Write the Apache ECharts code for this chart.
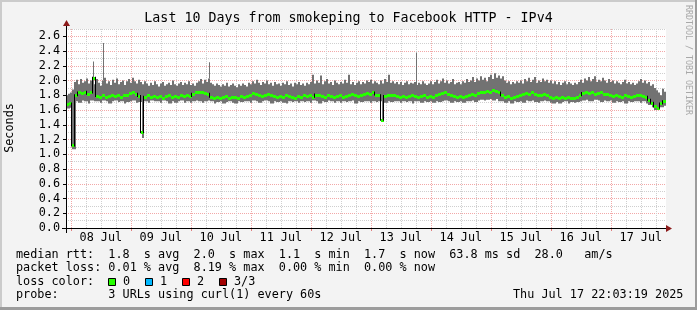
<!DOCTYPE html>
<html><head><meta charset="utf-8">
<script src="https://cdn.jsdelivr.net/npm/echarts@6/dist/echarts.min.js"></script>
<style>html,body{margin:0;padding:0;background:#f3f3f3}#c{width:697px;height:310px}</style>
</head><body><div id="c"></div>
<script>
// ---- data ----
const startTime = Date.UTC(2025, 6, 7, 22, 3, 19);
const endTime = Date.UTC(2025, 6, 17, 22, 3, 19);
const maxStepMinutes = 48;   // resolution of smokeMax
const stepMinutes = 72;      // resolution of smokeMin / medianRtt
const smokeMax = [
1.80,1.82,1.84,1.88,
1.98,2.01,1.95,2.02,1.97,1.99,2.03,1.96,2.00,1.98,
1.95,2.02,1.97,1.93,2.00,2.04,1.96,1.99,1.94,2.01,1.97,2.03,1.95,1.98,2.00,1.94,1.99,
2.02,1.97,2.04,1.99,1.96,2.01,1.98,1.95,1.99,1.96,
1.93,1.97,1.94,1.99,1.95,1.92,1.96,1.98,1.93,1.95,1.97,1.94,2.00,1.95,1.93,1.96,1.98,1.94,1.97,1.95,1.99,1.94,1.96,1.93,1.97,
1.99,2.02,1.96,2.01,1.98,2.03,1.97,1.95,1.93,1.96,
1.94,1.92,1.95,1.93,1.97,1.92,1.94,1.96,1.93,1.91,1.95,1.93,1.96,1.94,1.92,
1.97,1.95,1.99,1.96,2.01,1.97,1.94,1.98,1.96,2.00,1.95,1.97,1.93,1.98,1.95,
1.96,1.93,1.97,1.95,1.99,1.94,1.96,1.92,1.97,1.95,1.98,1.94,1.96,1.93,1.97,
1.95,1.98,2.08,1.96,2.00,1.97,2.07,1.95,1.99,2.02,1.96,1.98,1.94,2.00,1.97,
1.95,1.98,1.96,2.01,1.97,2.08,1.95,1.98,1.94,1.97,1.99,1.95,1.98,1.96,2.00,
1.98,2.01,1.96,1.99,1.97,1.95,2.00,1.96,2.02,1.98,2.08,1.97,1.99,1.96,1.98,
1.95,1.98,1.94,1.97,1.99,1.95,1.97,1.96,1.98,1.94,1.97,1.95,1.99,1.96,1.94,
1.96,1.99,1.95,1.98,2.01,1.96,1.99,2.03,1.97,2.00,1.96,1.98,2.02,1.95,1.97,
1.98,1.95,1.99,1.97,2.02,1.98,2.00,2.05,1.98,2.03,2.00,2.06,2.01,2.04,1.99,
2.05,2.08,2.02,2.10,2.04,2.07,2.03,2.06,2.00,1.97,1.99,1.95,1.98,1.96,1.99,
1.97,2.00,1.96,2.02,1.99,2.04,1.98,2.01,2.05,1.97,2.00,1.98,2.03,1.99,2.01,
1.97,2.00,1.96,1.99,1.95,1.98,1.94,1.97,1.99,1.95,1.98,1.96,1.94,1.97,1.95,
1.98,2.01,1.97,2.03,2.00,2.05,1.99,2.02,2.06,1.98,2.01,1.99,2.04,2.00,1.97,
2.02,1.98,2.00,1.96,1.99,1.97,1.95,1.98,2.01,1.96,1.98,1.95,1.97,1.94,1.96,
1.99,2.02,1.97,2.00,1.96,1.98,1.93,1.95,1.90,1.87,1.84,1.80,1.89,1.85
];
const smokeMin = [
1.62,1.63,1.07,1.72,1.70,1.73,1.72,1.69,1.73,1.72,
1.72,1.70,1.73,1.72,1.69,1.72,1.73,1.71,1.72,1.69,
1.71,1.72,1.73,1.70,1.71,1.22,1.72,1.70,1.73,1.72,
1.72,1.70,1.73,1.72,1.69,1.72,1.70,1.72,1.73,1.70,
1.72,1.70,1.72,1.73,1.72,1.70,1.72,1.73,1.72,1.69,
1.71,1.72,1.69,1.71,1.72,1.70,1.69,1.72,1.71,1.72,
1.72,1.70,1.73,1.72,1.70,1.72,1.73,1.72,1.69,1.72,
1.71,1.72,1.70,1.69,1.72,1.71,1.72,1.70,1.72,1.71,
1.72,1.70,1.73,1.72,1.69,1.72,1.71,1.73,1.72,1.70,
1.72,1.70,1.72,1.71,1.72,1.73,1.69,1.72,1.71,1.72,
1.72,1.70,1.72,1.71,1.72,1.44,1.70,1.72,1.71,1.72,
1.72,1.70,1.72,1.71,1.72,1.69,1.72,1.72,1.70,1.72,
1.71,1.72,1.70,1.72,1.71,1.72,1.73,1.72,1.70,1.72,
1.71,1.72,1.70,1.72,1.72,1.73,1.71,1.73,1.74,1.73,
1.74,1.75,1.73,1.75,1.72,1.72,1.70,1.72,1.69,1.72,
1.71,1.72,1.70,1.73,1.72,1.73,1.71,1.70,1.72,1.73,
1.72,1.70,1.69,1.71,1.69,1.71,1.72,1.69,1.71,1.70,
1.71,1.72,1.73,1.74,1.72,1.72,1.74,1.73,1.71,1.73,
1.72,1.73,1.70,1.72,1.71,1.72,1.69,1.72,1.71,1.72,
1.72,1.70,1.72,1.69,1.67,1.64,1.60,1.61,1.64,1.66
];
const medianRtt = [
1.68,1.69,1.12,1.80,1.84,1.83,1.85,1.82,1.84,2.04,
1.79,1.78,1.80,1.78,1.79,1.81,1.79,1.80,1.78,1.80,
1.81,1.83,1.84,1.82,1.79,1.30,1.78,1.80,1.78,1.79,
1.78,1.79,1.77,1.79,1.80,1.78,1.79,1.78,1.80,1.79,
1.80,1.79,1.82,1.84,1.85,1.84,1.83,1.82,1.78,1.77,
1.78,1.77,1.78,1.79,1.77,1.78,1.78,1.77,1.79,1.78,
1.79,1.81,1.83,1.82,1.80,1.79,1.81,1.82,1.80,1.79,
1.78,1.79,1.78,1.80,1.79,1.78,1.77,1.79,1.78,1.80,
1.79,1.80,1.78,1.81,1.80,1.79,1.78,1.80,1.79,1.78,
1.79,1.80,1.78,1.79,1.80,1.82,1.81,1.79,1.80,1.82,
1.83,1.82,1.84,1.81,1.80,1.47,1.79,1.80,1.81,1.80,
1.79,1.78,1.79,1.78,1.79,1.80,1.79,1.78,1.79,1.80,
1.78,1.79,1.78,1.80,1.82,1.83,1.84,1.82,1.80,1.79,
1.78,1.79,1.78,1.79,1.81,1.82,1.81,1.83,1.84,1.85,
1.86,1.85,1.87,1.86,1.84,1.80,1.78,1.79,1.77,1.78,
1.79,1.80,1.82,1.83,1.82,1.84,1.82,1.81,1.80,1.82,
1.80,1.78,1.77,1.78,1.77,1.78,1.77,1.78,1.76,1.77,
1.78,1.80,1.83,1.84,1.83,1.84,1.82,1.83,1.84,1.82,
1.82,1.80,1.79,1.81,1.79,1.78,1.80,1.79,1.78,1.79,
1.80,1.81,1.79,1.78,1.74,1.70,1.65,1.63,1.69,1.72
];
const spikeHours = [10.9, 14.9, 57.3, 140.3];
const spikeTops = [2.26, 2.51, 2.25, 2.38];
const dayLabels = ['08 Jul','09 Jul','10 Jul','11 Jul','12 Jul','13 Jul','14 Jul','15 Jul','16 Jul','17 Jul'];
const yMajor = [0,0.2,0.4,0.6,0.8,1.0,1.2,1.4,1.6,1.8,2.0,2.2,2.4,2.6];
const yMinor = [0.1,0.3,0.5,0.7,0.9,1.1,1.3,1.5,1.7,1.9,2.1,2.3,2.5,2.7];
const titleText = 'Last 10 Days from smokeping to Facebook HTTP - IPv4';
const legendLines = [
 'median rtt:  1.8  s avg  2.0  s max  1.1  s min  1.7  s now  63.8 ms sd  28.0   am/s',
 'packet loss: 0.01 % avg  8.19 % max  0.00 % min  0.00 % now',
 'loss color:',
 'probe:       3 URLs using curl(1) every 60s'
];
const lossLabels = ['0','1','2','3/3'];
const lossColors = ['#26ff00','#00b8ff','#ff0000','#a10000'];
const stampText = 'Thu Jul 17 22:03:19 2025';
const creditText = 'RRDTOOL / TOBI OETIKER';

// ---- derived ----
const H = 3600000, D = 24 * H;
const stepMs = stepMinutes * 60000;
const maxStepMs = maxStepMinutes * 60000;
const day0 = Date.UTC(2025, 6, 8);
const midnights = dayLabels.map((_, k) => day0 + k * D);
const noons = dayLabels.map((_, k) => day0 + k * D + 12 * H);
const sixHours = [];
dayLabels.forEach((_, k) => { [6, 12, 18].forEach(h => sixHours.push(day0 + k * D + h * H)); });

const smokeData = smokeMax.map((v, j) => {
  const k = Math.min(smokeMin.length - 1, Math.floor(j * maxStepMinutes / stepMinutes));
  return [startTime + j * maxStepMs, smokeMin[k], v];
});
const medData = medianRtt.map((v, i) => [startTime + i * stepMs, v]);
const spikeData = spikeHours.map((h, k) => {
  const idx = Math.floor(h * 60 / maxStepMinutes);
  return [startTime + h * H, smokeMax[idx], spikeTops[k]];
});

const FONT = '"DejaVu Sans Mono", monospace';
const chart = echarts.init(document.getElementById('c'), null, {renderer: 'canvas', width: 697, height: 310});

const dotted = c => ({color: c, width: 1, type: [1, 1]});

const graphics = [
  {type: 'rect', shape: {x: 0, y: 0, width: 697, height: 2}, style: {fill: '#cbcbcb'}, silent: true},
  {type: 'rect', shape: {x: 0, y: 0, width: 2, height: 310}, style: {fill: '#cbcbcb'}, silent: true},
  {type: 'rect', shape: {x: 695, y: 0, width: 2, height: 310}, style: {fill: '#9c9c9c'}, silent: true},
  {type: 'rect', shape: {x: 0, y: 307, width: 697, height: 3}, style: {fill: '#9c9c9c'}, silent: true},
  {type: 'text', x: 348.5, y: 18.5, style: {text: titleText, font: '13.3px ' + FONT, fill: '#000', align: 'center', verticalAlign: 'middle'}},
  {type: 'text', x: 10, y: 128, rotation: Math.PI / 2, style: {text: 'Seconds', font: '11.8px ' + FONT, fill: '#000', align: 'center', verticalAlign: 'middle'}},
  {type: 'text', x: 688.5, y: 60, rotation: -Math.PI / 2, style: {text: creditText, font: '8.3px ' + FONT, fill: '#a8a8a8', align: 'center', verticalAlign: 'middle'}},
  {type: 'line', shape: {x1: 66.5, y1: 22, x2: 66.5, y2: 233}, style: {stroke: '#000', lineWidth: 1}, z: 10},
  {type: 'line', shape: {x1: 62, y1: 228.5, x2: 668, y2: 228.5}, style: {stroke: '#000', lineWidth: 1}, z: 10},
  {type: 'polygon', shape: {points: [[66.5, 20], [63, 26], [70, 26]]}, style: {fill: '#8b1a1a'}, z: 11},
  {type: 'polygon', shape: {points: [[672, 228.5], [666, 225], [666, 232]]}, style: {fill: '#8b1a1a'}, z: 11},
  {type: 'text', x: 513, y: 295.3, style: {text: stampText, font: '11.8px ' + FONT, fill: '#000', align: 'left', verticalAlign: 'middle'}}
];
const lineYs = [254.7, 268.2, 282.3, 295.3];
legendLines.forEach((t, k) => graphics.push({type: 'text', x: 16, y: lineYs[k], style: {text: t, font: '11.8px ' + FONT, fill: '#000', align: 'left', verticalAlign: 'middle'}}));
const boxX = [108, 145, 182, 219];
lossLabels.forEach((t, k) => {
  graphics.push({type: 'rect', shape: {x: boxX[k] + 0.5, y: 278.5, width: 7, height: 7}, style: {fill: lossColors[k], stroke: '#000', lineWidth: 1}});
  graphics.push({type: 'text', x: boxX[k] + 15, y: lineYs[2], style: {text: t, font: '11.8px ' + FONT, fill: '#000', align: 'left', verticalAlign: 'middle'}});
});

chart.setOption({
  backgroundColor: '#f3f3f3',
  animation: false,
  grid: {left: 66, top: 29, width: 600, height: 199, backgroundColor: '#ffffff', show: true, borderWidth: 0, outerBoundsMode: 'none'},
  xAxis: [
    {type: 'value', min: startTime, max: endTime, position: 'bottom',
     axisLine: {show: false}, axisLabel: {show: false},
     axisTick: {show: false, customValues: sixHours},
     splitLine: {show: true, lineStyle: dotted('#cfcfcf')}},
    {type: 'value', min: startTime, max: endTime, position: 'bottom',
     axisLine: {show: false},
     axisTick: {show: true, customValues: midnights, length: 3, lineStyle: {color: '#e08080'}},
     axisLabel: {show: true, customValues: noons, margin: 4, color: '#000', fontFamily: FONT, fontSize: 11.8,
       formatter: v => dayLabels[Math.round((v - noons[0]) / D)]},
     splitLine: {show: true, lineStyle: dotted('#f2a8a8')}}
  ],
  yAxis: [
    {type: 'value', min: 0, max: 2.7, position: 'left',
     axisLine: {show: false}, axisLabel: {show: false},
     axisTick: {show: false, customValues: yMinor},
     splitLine: {show: true, lineStyle: dotted('#cfcfcf')}},
    {type: 'value', min: 0, max: 2.7, position: 'left',
     axisLine: {show: false},
     axisTick: {show: true, customValues: yMajor, length: 3, lineStyle: {color: '#000'}},
     axisLabel: {show: true, customValues: yMajor, margin: 6, color: '#000', fontFamily: FONT, fontSize: 11.8,
       formatter: v => v.toFixed(1)},
     splitLine: {show: true, showMinLine: false, lineStyle: dotted('#f2a8a8')}}
  ],
  series: [
    {type: 'custom', xAxisIndex: 1, yAxisIndex: 1, data: smokeData, clip: true, silent: true,
     renderItem(params, api) {
       const t = api.value(0);
       const a = api.coord([t, api.value(2)]);
       const b = api.coord([t + maxStepMs, api.value(1)]);
       return {type: 'rect', shape: {x: a[0], y: a[1], width: b[0] - a[0], height: b[1] - a[1]}, style: {fill: '#727272'}};
     }},
    {type: 'custom', xAxisIndex: 1, yAxisIndex: 1, data: spikeData, clip: true, silent: true,
     renderItem(params, api) {
       const t = api.value(0);
       const a = api.coord([t, api.value(2)]);
       const b = api.coord([t, api.value(1)]);
       return {type: 'rect', shape: {x: Math.floor(a[0]), y: a[1], width: 1, height: b[1] - a[1]}, style: {fill: '#727272'}};
     }},
    {type: 'custom', xAxisIndex: 1, yAxisIndex: 1, data: medData, clip: true, silent: true,
     renderItem(params, api) {
       const i = params.dataIndex;
       const t = api.value(0), v = api.value(1);
       const a = api.coord([t, v]);
       const b = api.coord([t + stepMs, v]);
       const children = [];
       if (i > 0) {
         const p = api.coord([t, medianRtt[i - 1]]);
         if (Math.abs(p[1] - a[1]) > 2) {
           children.push({type: 'rect', shape: {x: Math.round(a[0]) - 1, y: Math.min(p[1], a[1]) - 1, width: 1, height: Math.abs(p[1] - a[1]) + 2}, style: {fill: '#000'}});
         }
       }
       children.push({type: 'rect', shape: {x: a[0], y: Math.round(a[1]) - 1, width: b[0] - a[0], height: 3}, style: {fill: lossColors[0]}});
       return {type: 'group', children};
     }}
  ],
  graphic: graphics
});
</script></body></html>
